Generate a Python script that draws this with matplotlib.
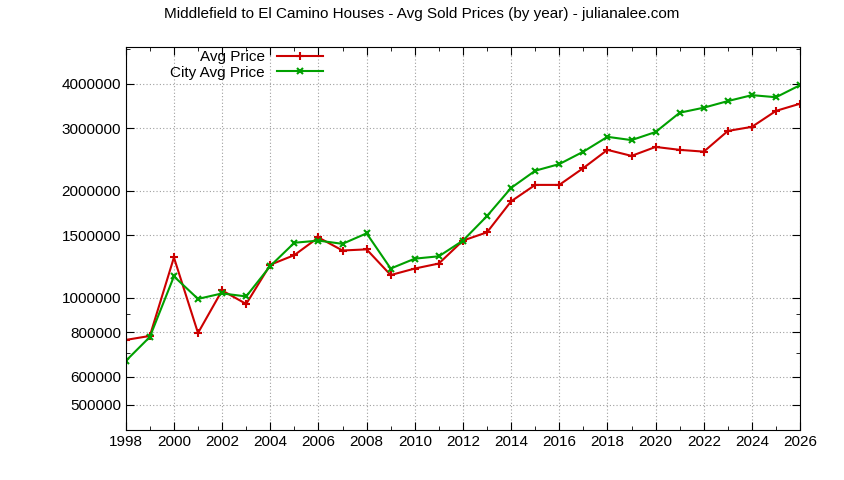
import matplotlib
matplotlib.use("Agg")
import matplotlib.pyplot as plt
from matplotlib.ticker import FixedLocator, NullFormatter, MultipleLocator

plt.rcParams["font.family"] = ["Liberation Sans", "DejaVu Sans"]

years = list(range(1998, 2027))
avg_price = [762000, 782000, 1300000, 797000, 1050000, 962000, 1240000, 1320000, 1480000,
             1360000, 1370000, 1160000, 1210000, 1250000, 1450000, 1530000, 1870000, 2080000,
             2080000, 2320000, 2610000, 2510000, 2660000, 2610000, 2580000, 2950000, 3030000,
             3360000, 3520000]
city_avg = [665000, 777000, 1150000, 994000, 1030000, 1010000, 1230000, 1430000, 1450000,
            1420000, 1520000, 1210000, 1290000, 1310000, 1450000, 1700000, 2040000, 2280000,
            2380000, 2580000, 2840000, 2780000, 2930000, 3320000, 3430000, 3580000, 3720000,
            3670000, 3970000]
yticks = [500000, 600000, 800000, 1000000, 1500000, 2000000, 3000000, 4000000]

fig = plt.figure(figsize=(8.44, 4.8), dpi=100)
ax = fig.add_axes([0.149, 0.104, 0.799, 0.798])
ax.plot(years, avg_price, color="#cc0000", marker="+", ms=6, mew=1.5, lw=1.5, label="Avg Price")
ax.plot(years, city_avg, color="#00a000", marker="x", ms=5, mew=1.5, lw=1.5, label="City Avg Price")
ax.set_yscale("log")
ax.set_xlim(1998, 2026)
ax.set_ylim(425000, 5080000)
ax.yaxis.set_major_locator(FixedLocator(yticks))
ax.yaxis.set_major_formatter(plt.FuncFormatter(lambda v, p: f"{int(v)}"))
ax.yaxis.set_minor_locator(FixedLocator([700000, 900000, 5000000]))
ax.yaxis.set_minor_formatter(NullFormatter())
ax.xaxis.set_major_locator(MultipleLocator(2))
ax.xaxis.set_minor_locator(MultipleLocator(1))
ax.grid(True, which="major", color="#a0a0a0", linestyle=(0, (1, 2)), lw=0.8)
ax.tick_params(which="both", direction="in", top=True, right=True, labelsize=11)
ax.tick_params(which="major", length=6)
ax.tick_params(which="minor", length=3)
fig.suptitle("Middlefield to El Camino Houses - Avg Sold Prices (by year) - julianalee.com",
             fontsize=11, x=0.5, y=0.985, va="top")
leg = ax.legend(loc="upper left", bbox_to_anchor=(0.05, 1.02), frameon=False, fontsize=11,
                markerfirst=False, handlelength=3.0, borderpad=0.2, labelspacing=0.1)
for t in leg.get_texts():
    t.set_ha("right")
fig.savefig("out.png", dpi=100)
